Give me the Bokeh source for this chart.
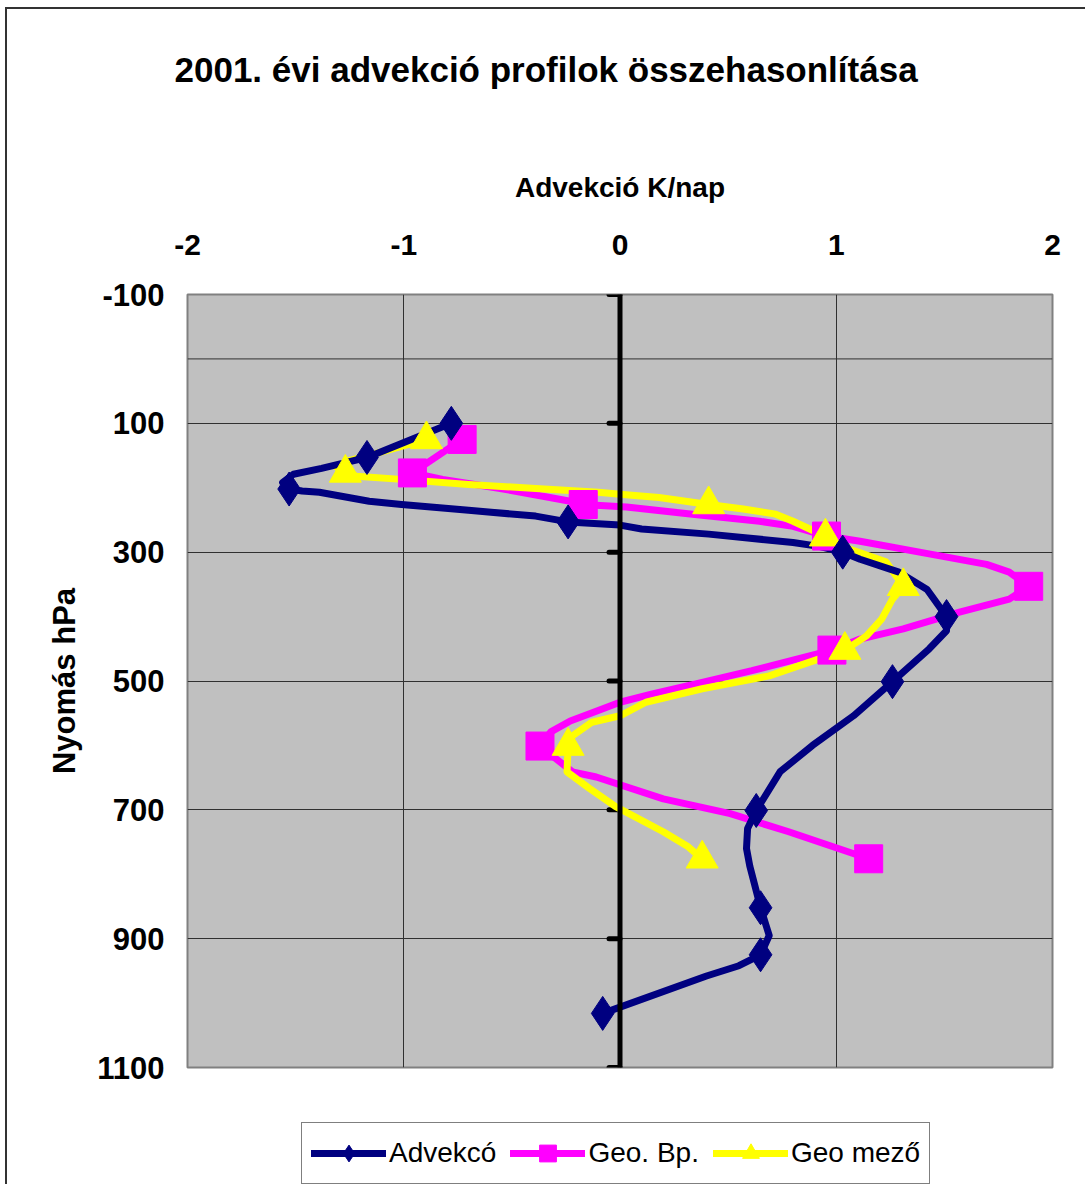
from bokeh.plotting import figure
from bokeh.models import Range1d, FixedTicker, Span, Legend, LegendItem, Title
from bokeh.layouts import column
from bokeh.embed import file_html
from bokeh.resources import INLINE

# ---------------- data ----------------
title_text = "2001. évi advekció profilok összehasonlítása"
x_title = "Advekció K/nap"
y_title = "Nyomás hPa"
x_ticks = [-2, -1, 0, 1, 2]
y_ticks = [-100, 100, 300, 500, 700, 900, 1100]
series_names = ["Advekcó", "Geo. Bp.", "Geo mező"]

# Advekció profile (line vertices), x = K/nap, p = hPa
adv_x = [-0.78, -1.17, -1.27, -1.38, -1.51, -1.56, -1.53, -1.47, -1.39, -1.16,
         -1.01, -0.70, -0.39, -0.24, 0.00, 0.10, 0.41, 0.59, 0.80, 0.92,
         1.03, 1.11, 1.29, 1.42, 1.51, 1.51, 1.43, 1.26, 1.08, 0.89,
         0.74, 0.63, 0.59, 0.585, 0.60, 0.65, 0.69, 0.65, 0.55, 0.40, -0.08]
adv_p = [100, 153, 161, 170, 179, 192, 202, 205, 207, 221,
         226, 235, 244, 253, 258, 264, 272, 278, 285, 291,
         300, 311, 331, 358, 400, 422, 450, 501, 554, 600,
         641, 701, 729, 760, 787, 852, 895, 925, 942, 958, 1016]
adv_mark_x = [-0.78, -1.17, -1.53, -0.24, 1.03, 1.51, 1.26, 0.63, 0.65, 0.65, -0.08]
adv_mark_p = [100, 153, 202, 253, 300, 400, 501, 701, 852, 925, 1016]

# Geo. Bp. profile
bp_x = [-0.73, -0.96, -0.82, -0.54, -0.23, -0.17, 0.03, 0.335, 0.645, 0.80,
        0.955, 1.11, 1.385, 1.695, 1.80, 1.89, 1.80, 1.57, 1.31, 1.11,
        0.98, 0.61, 0.38, 0.15, 0.00, -0.11, -0.23, -0.32, -0.37, -0.22,
        -0.11, 0.20, 0.51, 0.78, 1.15]
bp_p = [125, 177, 187, 202, 221, 226, 230, 241, 252, 260,
        275, 283, 300, 319, 331, 353, 373, 393, 419, 435,
        452, 484, 502, 520, 533, 547, 562, 579, 601, 641,
        649, 683, 706, 734, 776]
bp_mark_x = [-0.73, -0.96, -0.17, 0.955, 1.89, 0.98, -0.37, 1.15]
bp_mark_p = [125, 177, 226, 275, 353, 452, 601, 776]

# Geo mező profile
gm_x = [-0.895, -1.11, -1.265, -1.31, -1.265, -1.22, -1.01, -0.70, -0.39, -0.10,
        0.00, 0.18, 0.41, 0.57, 0.72, 0.80, 0.91, 0.95, 1.06, 1.23,
        1.31, 1.26, 1.21, 1.14, 1.04, 0.69, 0.38, 0.12, 0.00, -0.13,
        -0.22, -0.24, -0.245, -0.14, -0.02, 0.20, 0.31, 0.38]
gm_p = [125, 145, 159, 168, 177, 182, 187, 195, 201, 207,
        210, 215, 226, 233, 241, 252, 269, 276, 295, 315,
        353, 373, 404, 430, 452, 492, 512, 533, 554, 564,
        585, 601, 641, 667, 695, 734, 756, 776]
gm_mark_x = [-0.895, -1.27, 0.41, 0.95, 1.31, 1.04, -0.24, 0.38]
gm_mark_p = [125, 177, 226, 276, 353, 452, 601, 776]

# ---------------- styling ----------------
FONT = "Liberation Sans"
NAVY, PINK, YELLOW = "#000080", "#FF00FF", "#FFFF00"

W = 1090
FL, FT, FR, FB = 180, 285, 1045, 1058   # frame edges in canvas px
H1 = FB + 24
H2 = 93

p = figure(width=W, height=H1,
           x_range=Range1d(-2, 2), y_range=Range1d(1100, -100),
           x_axis_location="above", y_axis_location="left",
           output_backend="svg", toolbar_location=None,
           min_border_left=FL, min_border_top=FT,
           min_border_right=W - FR, min_border_bottom=H1 - FB,
           background_fill_color="#C0C0C0", border_fill_color="white",
           outline_line_color="#808080", outline_line_width=2,
           title=title_text)

p.title.text_font = FONT
p.title.text_font_size = "35px"
p.title.text_font_style = "bold"
p.title.text_color = "black"
p.title.align = "left"
p.title.offset = -13
p.title.standoff = 68

xax = p.xaxis[0]
xax.ticker = FixedTicker(ticks=x_ticks)
xax.major_label_overrides = {t: str(t) for t in x_ticks}
xax.axis_label = x_title
xax.axis_line_color = None
xax.major_tick_line_color = None
xax.minor_tick_line_color = None
xax.major_label_standoff = 34
xax.axis_label_standoff = 29
xax.major_label_text_font = FONT
xax.major_label_text_font_size = "30px"
xax.major_label_text_font_style = "bold"
xax.major_label_text_color = "black"
xax.axis_label_text_font = FONT
xax.axis_label_text_font_size = "28px"
xax.axis_label_text_font_style = "bold"
xax.axis_label_text_color = "black"

# blank gap between the chart title and the axis title
p.add_layout(Title(text=" ", text_font_size="2px", standoff=42), "above")

yax = p.yaxis[0]
yax.ticker = FixedTicker(ticks=y_ticks)
yax.major_label_overrides = {t: str(t) for t in y_ticks}
yax.axis_label = y_title
yax.axis_line_color = None
yax.major_tick_line_color = None
yax.minor_tick_line_color = None
yax.major_label_standoff = 17
yax.axis_label_standoff = 12
yax.major_label_text_font = FONT
yax.major_label_text_font_size = "31px"
yax.major_label_text_font_style = "bold"
yax.major_label_text_color = "black"
yax.axis_label_text_font = FONT
yax.axis_label_text_font_size = "31px"
yax.axis_label_text_font_style = "bold"
yax.axis_label_text_color = "black"

p.xgrid.ticker = FixedTicker(ticks=x_ticks)
p.ygrid.ticker = FixedTicker(ticks=y_ticks)
for g in (p.xgrid[0], p.ygrid[0]):
    g.grid_line_color = "#303030"
    g.grid_line_width = 1

# horizontal axis line at value 0 and the thick vertical axis at x = 0
p.add_layout(Span(location=0, dimension="width", line_color="#303030", line_width=1))
p.add_layout(Span(location=0, dimension="height", line_color="black", line_width=5))
tick_len = 11 / 216.25
p.segment(x0=[-tick_len] * len(y_ticks), y0=y_ticks, x1=[0] * len(y_ticks), y1=y_ticks,
          line_color="black", line_width=5, line_cap="round")

# series
line_kw = dict(line_width=7, line_join="round", line_cap="round")
p.line(bp_x, bp_p, line_color=PINK, **line_kw)
p.line(gm_x, gm_p, line_color=YELLOW, **line_kw)
p.line(adv_x, adv_p, line_color=NAVY, **line_kw)
p.scatter(bp_mark_x, bp_mark_p, marker="square", size=28, fill_color=PINK, line_color=PINK)
p.scatter(gm_mark_x, gm_mark_p, marker="triangle", size=32, fill_color=YELLOW, line_color=YELLOW)
p.scatter(adv_mark_x, adv_mark_p, marker="diamond", size=34, fill_color=NAVY, line_color=NAVY)

# ---------------- legend strip below the chart ----------------
lg = figure(width=W, height=H2, x_range=Range1d(-2, 2), y_range=Range1d(5000, 6000),
            x_axis_location=None, y_axis_location=None,
            output_backend="svg", toolbar_location=None, min_border=0,
            outline_line_color=None, border_fill_color="white",
            background_fill_color="white")
lg.grid.visible = False
# same series drawn far outside this strip's ranges: only their legend swatches show
l_adv = lg.line(adv_x, adv_p, line_color=NAVY, **line_kw)
m_adv = lg.scatter(adv_mark_x, adv_mark_p, marker="diamond", size=34, fill_color=NAVY, line_color=NAVY)
l_bp = lg.line(bp_x, bp_p, line_color=PINK, **line_kw)
m_bp = lg.scatter(bp_mark_x, bp_mark_p, marker="square", size=28, fill_color=PINK, line_color=PINK)
l_gm = lg.line(gm_x, gm_p, line_color=YELLOW, **line_kw)
m_gm = lg.scatter(gm_mark_x, gm_mark_p, marker="triangle", size=32, fill_color=YELLOW, line_color=YELLOW)

legend = Legend(items=[LegendItem(label=series_names[0], renderers=[l_adv, m_adv]),
                       LegendItem(label=series_names[1], renderers=[l_bp, m_bp]),
                       LegendItem(label=series_names[2], renderers=[l_gm, m_gm])],
                orientation="horizontal", location=(114, 0),
                label_text_font=FONT, label_text_font_size="28px", label_text_color="black",
                glyph_width=75, glyph_height=42, label_standoff=3, spacing=14,
                padding=9, margin=0, border_line_color="black", border_line_width=1,
                background_fill_color="white", background_fill_alpha=1.0)
lg.add_layout(legend, "center")

page = column(p, lg, spacing=0)
page.styles = {"margin-left": "5px", "margin-top": "7px",
               "border-left": "2px solid #333333", "border-top": "2px solid #333333"}

open("out.html", "w").write(file_html(page, INLINE))
